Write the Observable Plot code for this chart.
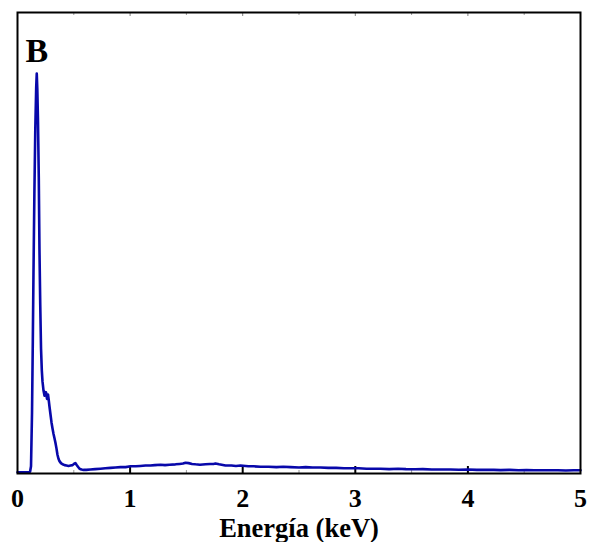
<!DOCTYPE html>
<html>
<head>
<meta charset="utf-8">
<script src="https://cdn.jsdelivr.net/npm/d3@7"></script>
<script src="https://cdn.jsdelivr.net/npm/@observablehq/plot@0.6"></script>
<style>
  html, body { margin: 0; padding: 0; background: #fff; }
  #chart svg { display: block; }
</style>
</head>
<body>
<div id="chart"></div>
<script>
// Energy (keV) and counts (relative, peak = 1000)
const energy = [
  0.000, 0.050, 0.100, 0.112, 0.120, 0.129, 0.136, 0.142, 0.150, 0.158, 0.166, 0.171, 0.176, 0.182, 0.189, 0.195, 0.202, 0.209, 0.216, 0.222,
  0.231, 0.240, 0.247, 0.253, 0.258, 0.262, 0.267, 0.271, 0.277, 0.284, 0.293, 0.302, 0.311, 0.320, 0.328, 0.337, 0.346, 0.355, 0.364, 0.373,
  0.386, 0.400, 0.418, 0.435, 0.453, 0.471, 0.489, 0.506, 0.515, 0.524, 0.537, 0.551, 0.568, 0.586, 0.610, 0.648, 0.690, 0.737, 0.780, 0.826,
  0.870, 0.915, 0.960, 1.004, 1.050, 1.090, 1.137, 1.180, 1.220, 1.270, 1.310, 1.350, 1.403, 1.440, 1.470, 1.492, 1.520, 1.550, 1.581, 1.620,
  1.670, 1.710, 1.740, 1.758, 1.790, 1.847, 1.900, 1.940, 1.980, 2.050, 2.100, 2.158, 2.230, 2.300, 2.360, 2.424, 2.500, 2.560, 2.620, 2.691,
  2.760, 2.830, 2.900, 2.957, 3.030, 3.100, 3.160, 3.224, 3.300, 3.380, 3.450, 3.535, 3.600, 3.680, 3.760, 3.845, 3.920, 4.000, 4.080, 4.160,
  4.230, 4.290, 4.370, 4.450, 4.520, 4.590, 4.645, 4.720, 4.800, 4.870, 4.940, 5.000
];
const counts = [
  0, 0, 0, 2, 15, 150, 330, 500, 700, 860, 965, 1000, 960, 880, 740, 560, 420, 310, 255, 228,
  205, 192, 196, 201, 192, 184, 190, 195, 182, 165, 145, 125, 110, 96, 86, 74, 60, 44, 34, 28,
  23, 20, 18, 17, 16, 17, 18, 22, 23, 19, 14, 9, 7, 6, 6, 7, 8, 9, 10, 11,
  12, 13, 13, 15, 15, 16, 17, 17, 18, 19, 18, 19, 20, 21, 22, 24, 23, 21, 20, 19,
  20, 21, 21, 22, 20, 17, 17, 16, 17, 15, 15, 14, 14, 13, 14, 13, 12, 13, 12, 12,
  11, 11, 10, 10, 10, 9, 9, 9, 8, 9, 8, 7.5, 8, 7, 7, 7, 6.5, 7, 6, 6,
  6, 5.5, 6, 5, 5.5, 5, 5, 5, 5, 4.5, 5, 5
];
const spectrum = energy.map((e, i) => ({energy: e, counts: counts[i]}));

const majorTicks = [0, 1, 2, 3, 4, 5];
const innerTicks = [1, 2, 3, 4];
const minorTicks = [0.5, 1.5, 2.5, 3.5, 4.5];
const panelLabel = ["B"];
const xLabel = "Energía (keV)";

const W = 590, H = 542;
const mTop = 12, mBottom = 69, mLeft = 17, mRight = 10;
const innerH = H - mTop - mBottom;
const serif = "'Liberation Serif', 'Times New Roman', serif";

const chart = Plot.plot({
  width: W,
  height: H,
  marginTop: mTop,
  marginBottom: mBottom,
  marginLeft: mLeft,
  marginRight: mRight,
  style: {fontFamily: serif, background: "#fff", color: "#000"},
  x: {domain: [0, 5]},
  y: {domain: [-3, 1153], axis: null},
  marks: [
    Plot.axisX({
      ticks: majorTicks,
      tickSize: 0,
      tickPadding: 15,
      tickFormat: d => String(d),
      fontSize: 26,
      fontWeight: "bold",
      label: xLabel,
      labelAnchor: "center",
      labelOffset: 63,
      labelArrow: "none"
    }),
    Plot.tickX(innerTicks, {insetTop: innerH - 7, stroke: "#000", strokeWidth: 2}),
    Plot.tickX(innerTicks, {insetBottom: innerH - 4, stroke: "#000", strokeWidth: 1, strokeOpacity: 0.5}),
    Plot.tickX(minorTicks, {insetTop: innerH - 3, stroke: "#000", strokeWidth: 1, strokeOpacity: 0.4}),
    Plot.tickX(minorTicks, {insetBottom: innerH - 3, stroke: "#000", strokeWidth: 1, strokeOpacity: 0.4}),
    Plot.line(spectrum, {x: "energy", y: "counts", stroke: "#0808aa", strokeWidth: 2.6, strokeLinejoin: "round"}),
    Plot.frame({stroke: "#000", strokeWidth: 2}),
    Plot.text(panelLabel, {
      text: d => d,
      frameAnchor: "top-left",
      dx: 8,
      dy: 25,
      fontSize: 34,
      fontWeight: "bold",
      fontFamily: serif,
      textAnchor: "start",
      lineAnchor: "top",
      fill: "#000"
    })
  ]
});
document.getElementById("chart").appendChild(chart);
// enforce axis text sizes by content
chart.querySelectorAll("text").forEach(t => {
  const s = t.textContent.trim();
  if (/^[0-5]$/.test(s)) {
    t.style.fontSize = "26px";
    t.style.fontWeight = "bold";
  } else if (s === xLabel) {
    t.style.fontSize = "26.5px";
    t.style.fontWeight = "bold";
  }
});
</script>
</body>
</html>
